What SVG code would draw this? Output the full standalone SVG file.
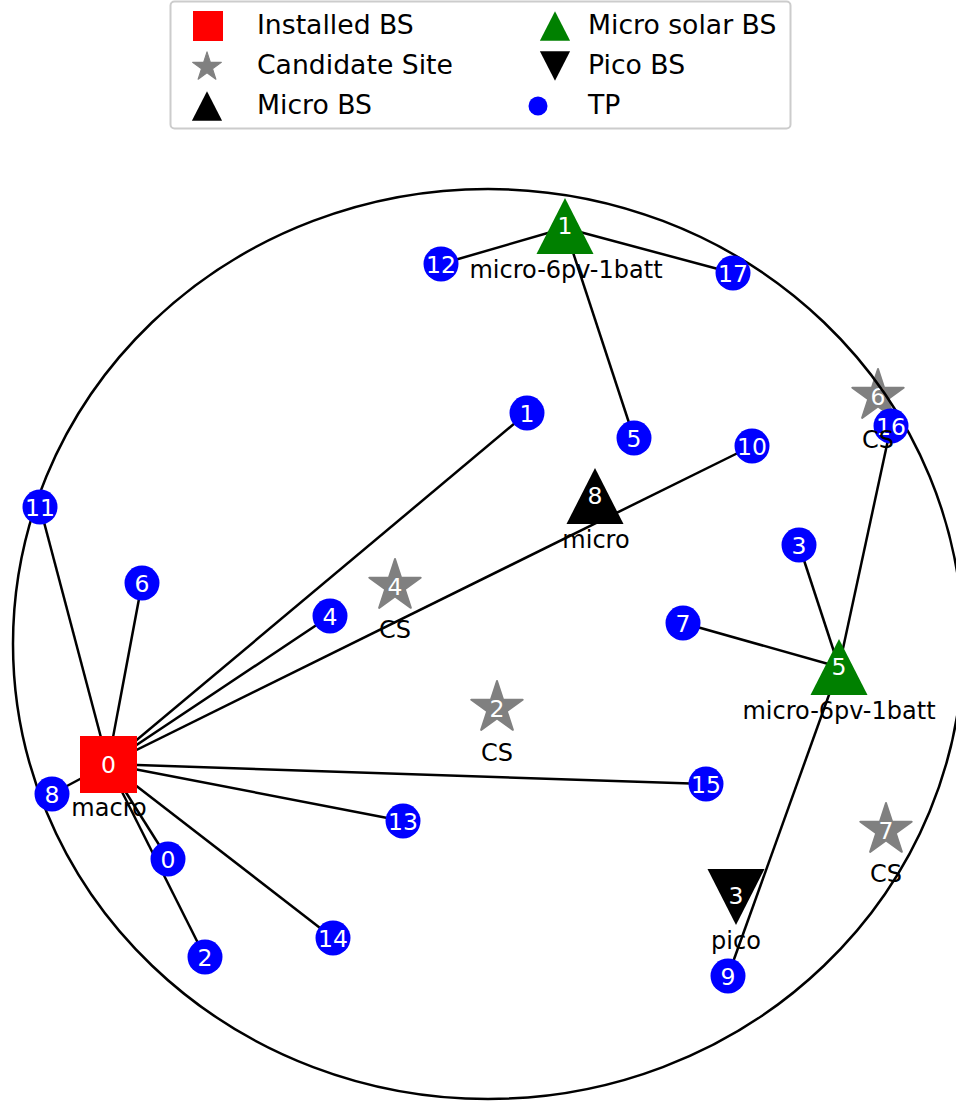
<svg xmlns="http://www.w3.org/2000/svg" xmlns:xlink="http://www.w3.org/1999/xlink" width="956" height="1102" viewBox="0 0 956 1102">
<style>
text{font-family:"DejaVu Sans","Liberation Sans",sans-serif}
.num{fill:#fff;font-size:23.5px;text-anchor:middle}
.lab{fill:#000;font-size:24px;text-anchor:middle}
.leg{fill:#000;font-size:26.67px}
.tp{fill:#0000ff}
.star{fill:#808080;stroke:#808080;stroke-width:2;stroke-linejoin:round}
.edge{stroke:#000;stroke-width:2.5;fill:none}
</style>
<defs>
<path id="starShape" d="M0,-27 L6.07,-8.35 L25.68,-8.34 L9.82,3.19 L15.87,21.84 L0,10.32 L-15.87,21.84 L-9.82,3.19 L-25.68,-8.34 L-6.07,-8.35 Z"/>
<path id="triUp" d="M0,-28 L28.5,28 L-28.5,28 Z"/>
<path id="triDown" d="M0,28 L28.5,-28 L-28.5,-28 Z"/>
</defs>
<rect width="956" height="1102" fill="#fff"/>

<g id="legend">
<rect x="170.5" y="1.5" width="620" height="127" rx="4" fill="#fff" stroke="#cccccc" stroke-width="2"/>
<rect x="193" y="11" width="30" height="30" fill="#ff0000"/>
<use xlink:href="#starShape" transform="translate(207,67) scale(0.56)" class="star"/>
<use xlink:href="#triUp" transform="translate(207,106) scale(0.53)" fill="#000"/>
<use xlink:href="#triUp" transform="translate(555,26) scale(0.53)" fill="#008000"/>
<use xlink:href="#triDown" transform="translate(555,66) scale(0.53)" fill="#000"/>
<circle cx="538" cy="106" r="9.5" fill="#0000ff"/>
<text class="leg" x="257" y="34">Installed BS</text>
<text class="leg" x="257" y="74">Candidate Site</text>
<text class="leg" x="257" y="114">Micro BS</text>
<text class="leg" x="588" y="34">Micro solar BS</text>
<text class="leg" x="588" y="74">Pico BS</text>
<text class="leg" x="588" y="114">TP</text>
</g>

<g id="cs4"><use xlink:href="#starShape" x="395" y="586" class="star"/><text class="num" x="395" y="595">4</text></g>
<g id="cs2"><use xlink:href="#starShape" x="497" y="708" class="star"/><text class="num" x="497" y="717">2</text></g>
<g id="cs6"><use xlink:href="#starShape" x="878" y="396" class="star"/><text class="num" x="878" y="405">6</text></g>
<g id="cs7"><use xlink:href="#starShape" x="886" y="830" class="star"/><text class="num" x="886" y="839">7</text></g>

<g id="pico3"><use xlink:href="#triDown" x="736" y="897" fill="#000"/><text class="num" x="736" y="904">3</text></g>

<g id="area"><ellipse cx="488" cy="644" rx="475" ry="455" fill="none" stroke="#000" stroke-width="2.5"/></g>

<g id="connectors" class="edge">
<line x1="108" y1="764" x2="40" y2="507"/>
<line x1="108" y1="764" x2="142" y2="583"/>
<line x1="108" y1="764" x2="527" y2="413"/>
<line x1="108" y1="764" x2="330" y2="616"/>
<line x1="108" y1="764" x2="752" y2="446"/>
<line x1="108" y1="764" x2="706" y2="784"/>
<line x1="108" y1="764" x2="403" y2="821"/>
<line x1="108" y1="764" x2="333" y2="938"/>
<line x1="108" y1="764" x2="168" y2="859"/>
<line x1="108" y1="764" x2="205" y2="957"/>
<line x1="108" y1="764" x2="52" y2="794"/>
<line x1="565" y1="228" x2="441" y2="264"/>
<line x1="565" y1="228" x2="733" y2="273"/>
<line x1="565" y1="228" x2="634" y2="438"/>
<line x1="839" y1="667" x2="799" y2="545"/>
<line x1="839" y1="667" x2="683" y2="623"/>
<line x1="839" y1="667" x2="891" y2="426"/>
<line x1="839" y1="667" x2="728" y2="976"/>
</g>

<g id="tp0"><circle class="tp" cx="168" cy="859" r="17.5"/><text class="num" x="168" y="868">0</text></g>
<g id="tp1"><circle class="tp" cx="527" cy="413" r="17.5"/><text class="num" x="527" y="422">1</text></g>
<g id="tp2"><circle class="tp" cx="205" cy="957" r="17.5"/><text class="num" x="205" y="966">2</text></g>
<g id="tp3"><circle class="tp" cx="799" cy="545" r="17.5"/><text class="num" x="799" y="554">3</text></g>
<g id="tp4"><circle class="tp" cx="330" cy="616" r="17.5"/><text class="num" x="330" y="625">4</text></g>
<g id="tp5"><circle class="tp" cx="634" cy="438" r="17.5"/><text class="num" x="634" y="447">5</text></g>
<g id="tp6"><circle class="tp" cx="142" cy="583" r="17.5"/><text class="num" x="142" y="592">6</text></g>
<g id="tp7"><circle class="tp" cx="683" cy="623" r="17.5"/><text class="num" x="683" y="632">7</text></g>
<g id="tp8"><circle class="tp" cx="52" cy="794" r="17.5"/><text class="num" x="52" y="803">8</text></g>
<g id="tp9"><circle class="tp" cx="728" cy="976" r="17.5"/><text class="num" x="728" y="985">9</text></g>
<g id="tp10"><circle class="tp" cx="752" cy="446" r="17.5"/><text class="num" x="752" y="455">10</text></g>
<g id="tp11"><circle class="tp" cx="40" cy="507" r="17.5"/><text class="num" x="40" y="516">11</text></g>
<g id="tp12"><circle class="tp" cx="441" cy="264" r="17.5"/><text class="num" x="441" y="273">12</text></g>
<g id="tp13"><circle class="tp" cx="403" cy="821" r="17.5"/><text class="num" x="403" y="830">13</text></g>
<g id="tp14"><circle class="tp" cx="333" cy="938" r="17.5"/><text class="num" x="333" y="947">14</text></g>
<g id="tp15"><circle class="tp" cx="706" cy="784" r="17.5"/><text class="num" x="706" y="793">15</text></g>
<g id="tp16"><circle class="tp" cx="891" cy="426" r="17.5"/><text class="num" x="891" y="435">16</text></g>
<g id="tp17"><circle class="tp" cx="733" cy="273" r="17.5"/><text class="num" x="733" y="282">17</text></g>

<g id="macro0"><rect x="80" y="736" width="57" height="57" fill="#ff0000"/><text class="num" x="108.5" y="773">0</text></g>
<g id="micro1"><use xlink:href="#triUp" x="565" y="226" fill="#008000"/><text class="num" x="565" y="234">1</text></g>
<g id="micro8"><use xlink:href="#triUp" x="595" y="496" fill="#000"/><text class="num" x="595" y="504">8</text></g>
<g id="micro5"><use xlink:href="#triUp" x="839" y="667" fill="#008000"/><text class="num" x="839" y="675">5</text></g>

<g id="labels">
<text class="lab" x="566" y="278">micro-6pv-1batt</text>
<text class="lab" x="596" y="548">micro</text>
<text class="lab" x="395" y="638">CS</text>
<text class="lab" x="497" y="761">CS</text>
<text class="lab" x="878" y="448">CS</text>
<text class="lab" x="886" y="882">CS</text>
<text class="lab" x="839" y="719">micro-6pv-1batt</text>
<text class="lab" x="109" y="816">macro</text>
<text class="lab" x="736" y="949">pico</text>
</g>
</svg>
